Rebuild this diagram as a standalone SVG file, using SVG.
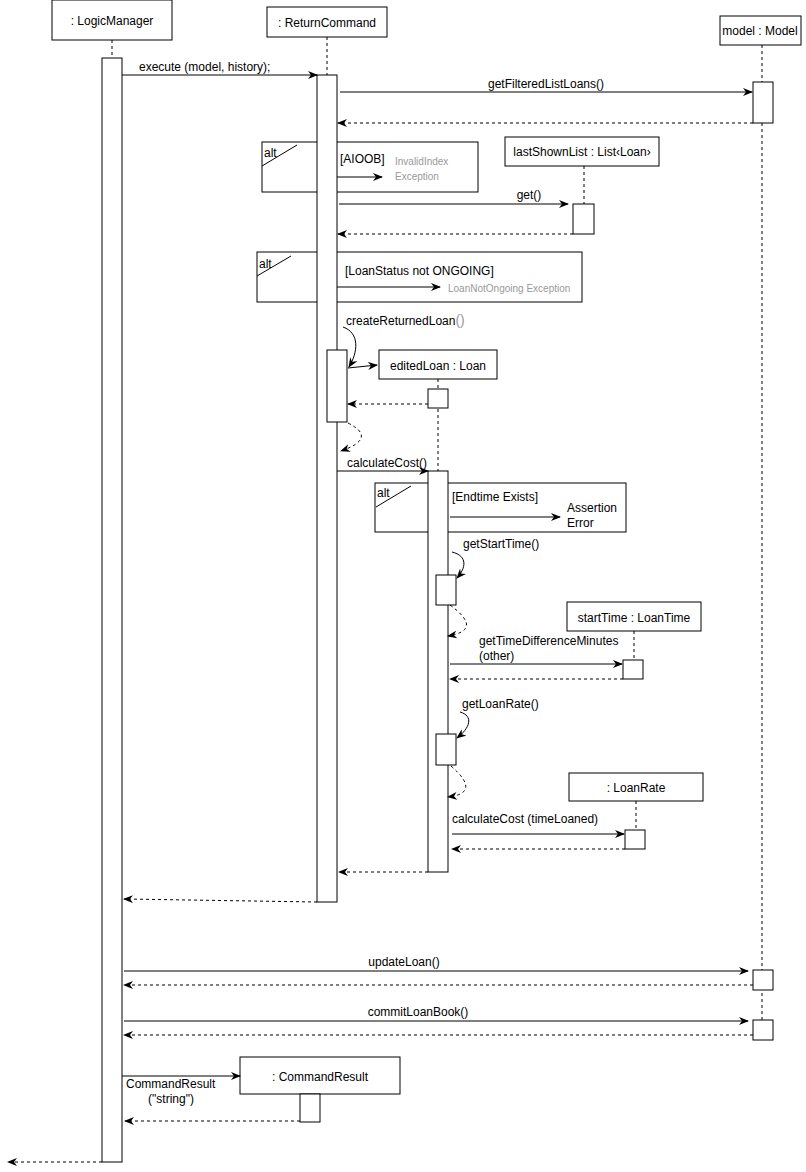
<svg xmlns="http://www.w3.org/2000/svg" width="806" height="1172" viewBox="0 0 806 1172">
<defs>
<marker id="ah" markerWidth="10" markerHeight="8" refX="9" refY="4" orient="auto" markerUnits="userSpaceOnUse">
<path d="M0,0 L10,4 L0,8 L3,4 z" fill="#000"/>
</marker>
<style>
text{font-family:"Liberation Sans",Arial,sans-serif;font-size:12px;fill:#000}
.c{text-anchor:middle}
.g{fill:#999;font-size:10px}
.box{fill:#fff;stroke:#000;stroke-width:1}
.act{fill:#fff;stroke:#000;stroke-width:1}
.life{stroke:#000;stroke-dasharray:3,3;fill:none}
.msg{stroke:#000;fill:none;marker-end:url(#ah)}
.ret{stroke:#000;stroke-dasharray:3,3;fill:none;marker-end:url(#ah)}
.frame{fill:none;stroke:#000}
</style>
</defs>
<rect width="806" height="1172" fill="#fff"/>

<g id="lifelines">
<line class="life" x1="112" y1="40" x2="112" y2="58"/>
<line class="life" x1="327" y1="37" x2="327" y2="75"/>
<line class="life" x1="762" y1="45" x2="762" y2="1020"/>
<line class="life" x1="584" y1="166" x2="584" y2="204"/>
<line class="life" x1="438" y1="379" x2="438" y2="471"/>
<line class="life" x1="634" y1="631" x2="634" y2="660"/>
<line class="life" x1="636" y1="801" x2="636" y2="830"/>
</g>

<g id="alt-frames">
<g id="alt1">
<rect class="frame" x="262" y="142" width="216" height="50"/>
<line x1="262" y1="166" x2="297" y2="145" stroke="#000"/>
<text x="264" y="157">alt</text>
<text x="340" y="163">[AIOOB]</text>
<text class="g" x="395" y="165">InvalidIndex</text>
<text class="g" x="395" y="180">Exception</text>
</g>
<g id="alt2">
<rect class="frame" x="257" y="252" width="325" height="50"/>
<line x1="257" y1="276" x2="291" y2="256" stroke="#000"/>
<text x="259" y="268">alt</text>
<text x="345" y="275">[LoanStatus not ONGOING]</text>
<text class="g" x="448" y="292">LoanNotOngoing Exception</text>
</g>
<g id="alt3">
<rect class="frame" x="375" y="483" width="251" height="49"/>
<line x1="376" y1="507" x2="411" y2="486" stroke="#000"/>
<text x="377" y="497">alt</text>
<text x="452" y="501">[Endtime Exists]</text>
<text x="567" y="512">Assertion</text>
<text x="567" y="527">Error</text>
</g>
</g>

<g id="n-logicmanager">
<rect class="box" x="52" y="0" width="120" height="40"/>
<text class="c" x="112" y="25">: LogicManager</text>
<rect class="act" x="102" y="58" width="20" height="1104"/>
</g>

<g id="n-returncommand">
<rect class="box" x="267" y="7" width="120" height="30"/>
<text class="c" x="327" y="27">: ReturnCommand</text>
<rect class="act" x="317" y="75" width="20" height="827"/>
<rect class="act" x="327" y="350" width="20" height="72"/>
</g>

<g id="n-model">
<rect class="box" x="720" y="16" width="81" height="29"/>
<text class="c" x="760" y="35">model : Model</text>
<rect class="act" x="753" y="82" width="20" height="41"/>
<rect class="act" x="753" y="970" width="20" height="20"/>
<rect class="act" x="753" y="1020" width="20" height="20"/>
</g>

<g id="n-lastshownlist">
<rect class="box" x="505" y="137" width="154" height="29"/>
<text class="c" x="582" y="156">lastShownList : List‹Loan›</text>
<rect class="act" x="573" y="204" width="21" height="30" stroke="#666"/>
</g>

<g id="n-editedloan">
<rect class="box" x="379" y="350" width="118" height="29"/>
<text class="c" x="438" y="370">editedLoan : Loan</text>
<rect class="act" x="428" y="389" width="20" height="19"/>
<rect class="act" x="428" y="471" width="20" height="401"/>
<rect class="act" x="436" y="575" width="20" height="30"/>
<rect class="act" x="436" y="734" width="20" height="31"/>
</g>

<g id="n-starttime">
<rect class="box" x="567" y="602" width="134" height="29"/>
<text class="c" x="634" y="622">startTime : LoanTime</text>
<rect class="act" x="623" y="660" width="20" height="19"/>
</g>

<g id="n-loanrate">
<rect class="box" x="569" y="773" width="134" height="28"/>
<text class="c" x="636" y="792">: LoanRate</text>
<rect class="act" x="625" y="830" width="20" height="19"/>
</g>

<g id="n-commandresult">
<rect class="box" x="240" y="1057" width="160" height="37"/>
<text class="c" x="320" y="1081">: CommandResult</text>
<rect class="act" x="300" y="1094" width="20" height="28"/>
</g>

<g id="connectors">
<line class="msg" x1="122" y1="75" x2="317" y2="75"/>
<text x="139" y="71">execute (model, history);</text>

<line class="msg" x1="340" y1="92" x2="752" y2="92"/>
<text class="c" x="546" y="88">getFilteredListLoans()</text>
<line class="ret" x1="753" y1="123" x2="338" y2="123"/>

<line class="msg" x1="337" y1="177" x2="382" y2="177"/>

<line class="msg" x1="339" y1="204" x2="568" y2="204" stroke="#444"/>
<text class="c" x="529" y="199">get()</text>
<line class="ret" x1="573" y1="234" x2="338" y2="234"/>

<line class="msg" x1="337" y1="287" x2="440" y2="287"/>

<text x="346" y="325">createReturnedLoan<tspan style="fill:#999;font-size:14px">()</tspan></text>
<path class="msg" d="M343,327 C360,333 358,352 349,367"/>
<line class="msg" x1="348" y1="368" x2="377" y2="365"/>
<line class="ret" x1="428" y1="404" x2="348" y2="404"/>
<path class="ret" d="M348,423 Q378,438 341,451"/>

<line class="msg" x1="337" y1="471" x2="428" y2="471"/>
<text x="347" y="467">calculateCost()</text>

<line class="msg" x1="450" y1="517" x2="560" y2="517"/>

<text x="463" y="548">getStartTime()</text>
<path class="msg" d="M452,552 C468,556 466,568 457,578"/>
<path class="ret" d="M450,605 Q484,630 448,636"/>

<text x="479" y="645">getTimeDifferenceMinutes</text>
<text x="479" y="660">(other)</text>
<line class="msg" x1="450" y1="664" x2="622" y2="664"/>
<line class="ret" x1="623" y1="679" x2="450" y2="679"/>

<text x="462" y="708">getLoanRate()</text>
<path class="msg" d="M460,712 C474,716 470,728 457,738"/>
<path class="ret" d="M451,766 Q482,793 448,797"/>

<text x="452" y="823">calculateCost (timeLoaned)</text>
<line class="msg" x1="452" y1="834" x2="624" y2="834"/>
<line class="ret" x1="625" y1="849" x2="452" y2="849"/>

<line class="ret" x1="428" y1="872" x2="339" y2="872"/>
<line class="ret" x1="317" y1="902" x2="124" y2="899"/>

<line class="msg" x1="124" y1="971" x2="748" y2="971"/>
<text class="c" x="404" y="966">updateLoan()</text>
<line class="ret" x1="753" y1="985" x2="124" y2="985"/>

<line class="msg" x1="124" y1="1021" x2="748" y2="1021"/>
<text class="c" x="418" y="1016">commitLoanBook()</text>
<line class="ret" x1="753" y1="1035" x2="124" y2="1035"/>

<line class="msg" x1="122" y1="1076" x2="240" y2="1076"/>
<text x="126" y="1088">CommandResult</text>
<text class="c" x="171" y="1103">("string")</text>
<line class="ret" x1="300" y1="1121" x2="125" y2="1121"/>

<line class="ret" x1="102" y1="1162" x2="8" y2="1162"/>
</g>
</svg>
